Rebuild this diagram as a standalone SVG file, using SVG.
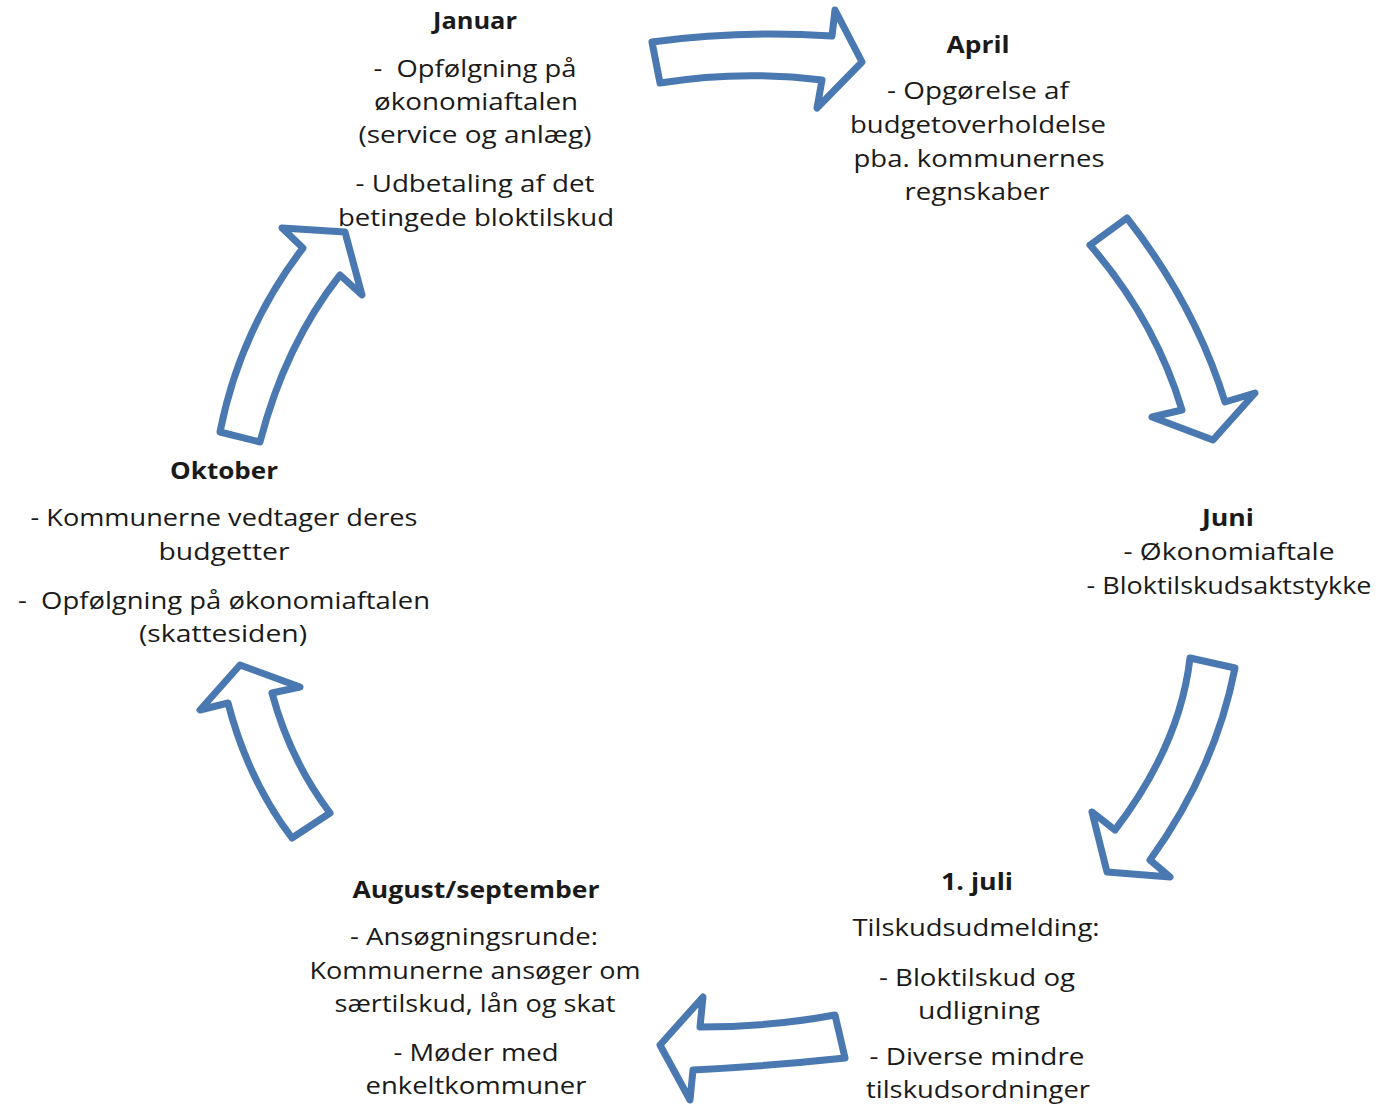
<svg xmlns="http://www.w3.org/2000/svg" width="1378" height="1105" viewBox="0 0 1378 1105">
<style>
  .arrow { fill: #ffffff; stroke: #4a78b0; stroke-width: 7; stroke-linejoin: round; }
  text { font-family: "Open Sans", "Liberation Sans", sans-serif; font-size: 24px; fill: #1a1a1a; text-anchor: middle; }
  .h { font-weight: bold; }
</style>
<rect width="1378" height="1105" fill="#ffffff"/>
<g id="connectors">
  <path id="arrow-jan-apr" class="arrow" d="M652,42 Q740,30 832,36 L835,10 L862,62 L817,108 L822,80 Q740,70 660,83 Z"/>
  <path id="arrow-apr-jun" class="arrow" d="M1090,245 L1127,218 Q1195,305 1225,402 L1255,393 L1213,440 L1152,417 L1182,410 Q1155,320 1090,245 Z"/>
  <path id="arrow-jun-jul" class="arrow" d="M1190,658 L1235,668 Q1215,770 1150,860 L1170,877 L1107,872 L1092,812 L1115,830 Q1180,745 1190,658 Z"/>
  <path id="arrow-jul-aug" class="arrow" d="M835,1015 L845,1058 Q770,1066 693,1070 L690,1100 L660,1045 L703,997 L700,1027 Q770,1027 835,1015 Z"/>
  <path id="arrow-aug-okt" class="arrow" d="M292,838 L330,813 Q290,760 272,693 L300,687 L240,665 L200,710 L228,703 Q248,780 292,838 Z"/>
  <path id="arrow-okt-jan" class="arrow" d="M220,432 L260,442 Q285,345 340,275 L362,295 L345,232 L282,228 L303,248 Q240,330 220,432 Z"/>
</g>
<g id="node-januar">
  <text class="h" x="475" y="29" textLength="84" lengthAdjust="spacingAndGlyphs">Januar</text>
  <text x="475" y="77" textLength="203" lengthAdjust="spacingAndGlyphs" xml:space="preserve">-  Opfølgning på</text>
  <text x="476" y="110" textLength="204" lengthAdjust="spacingAndGlyphs">økonomiaftalen</text>
  <text x="475" y="143" textLength="233" lengthAdjust="spacingAndGlyphs">(service og anlæg)</text>
  <text x="475" y="192" textLength="239" lengthAdjust="spacingAndGlyphs">- Udbetaling af det</text>
  <text x="476" y="226" textLength="276" lengthAdjust="spacingAndGlyphs">betingede bloktilskud</text>
</g>
<g id="node-april">
  <text class="h" x="978" y="53" textLength="63" lengthAdjust="spacingAndGlyphs">April</text>
  <text x="978" y="99" textLength="182" lengthAdjust="spacingAndGlyphs">- Opgørelse af</text>
  <text x="978" y="133" textLength="256" lengthAdjust="spacingAndGlyphs">budgetoverholdelse</text>
  <text x="979" y="167" textLength="251" lengthAdjust="spacingAndGlyphs">pba. kommunernes</text>
  <text x="977" y="200" textLength="145" lengthAdjust="spacingAndGlyphs">regnskaber</text>
</g>
<g id="node-juni">
  <text class="h" x="1228" y="526" textLength="52" lengthAdjust="spacingAndGlyphs">Juni</text>
  <text x="1229" y="560" textLength="211" lengthAdjust="spacingAndGlyphs">- Økonomiaftale</text>
  <text x="1229" y="594" textLength="285" lengthAdjust="spacingAndGlyphs">- Bloktilskudsaktstykke</text>
</g>
<g id="node-juli">
  <text class="h" x="977" y="890" textLength="72" lengthAdjust="spacingAndGlyphs">1. juli</text>
  <text x="976" y="936" textLength="247" lengthAdjust="spacingAndGlyphs">Tilskudsudmelding:</text>
  <text x="977" y="986" textLength="196" lengthAdjust="spacingAndGlyphs">- Bloktilskud og</text>
  <text x="979" y="1019" textLength="122" lengthAdjust="spacingAndGlyphs">udligning</text>
  <text x="977" y="1065" textLength="215" lengthAdjust="spacingAndGlyphs">- Diverse mindre</text>
  <text x="978" y="1098" textLength="224" lengthAdjust="spacingAndGlyphs">tilskudsordninger</text>
</g>
<g id="node-august">
  <text class="h" x="476" y="898" textLength="247" lengthAdjust="spacingAndGlyphs">August/september</text>
  <text x="474" y="945" textLength="248" lengthAdjust="spacingAndGlyphs">- Ansøgningsrunde:</text>
  <text x="475" y="979" textLength="331" lengthAdjust="spacingAndGlyphs">Kommunerne ansøger om</text>
  <text x="475" y="1012" textLength="281" lengthAdjust="spacingAndGlyphs">særtilskud, lån og skat</text>
  <text x="476" y="1061" textLength="165" lengthAdjust="spacingAndGlyphs">- Møder med</text>
  <text x="476" y="1094" textLength="221" lengthAdjust="spacingAndGlyphs">enkeltkommuner</text>
</g>
<g id="node-oktober">
  <text class="h" x="224" y="479" textLength="108" lengthAdjust="spacingAndGlyphs">Oktober</text>
  <text x="224" y="526" textLength="387" lengthAdjust="spacingAndGlyphs">- Kommunerne vedtager deres</text>
  <text x="224" y="560" textLength="131" lengthAdjust="spacingAndGlyphs">budgetter</text>
  <text x="224" y="609" textLength="412" lengthAdjust="spacingAndGlyphs" xml:space="preserve">-  Opfølgning på økonomiaftalen</text>
  <text x="223" y="642" textLength="168" lengthAdjust="spacingAndGlyphs">(skattesiden)</text>
</g>
</svg>
